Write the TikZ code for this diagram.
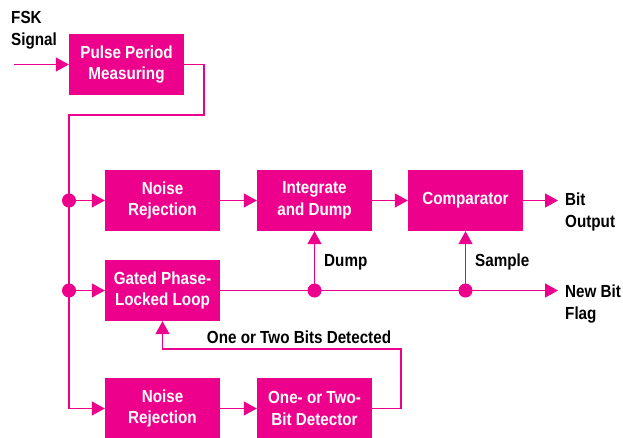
\documentclass[tikz,border=0pt]{standalone}
\usepackage{fontspec}
\setmainfont{Liberation Sans}[FakeStretch=0.87]
\usetikzlibrary{arrows.meta}
\definecolor{mag}{HTML}{EC008C}
\begin{document}
\begin{tikzpicture}[x=1pt,y=-1pt,
  box/.style={fill=mag, minimum width=115pt, minimum height=61pt, inner sep=0pt, text=white, font=\fontsize{17.5}{21.5}\selectfont\bfseries, align=center},
  lbl/.style={font=\fontsize{17.5}{22}\selectfont\bfseries, inner sep=0pt, align=left, text=black},
  wire/.style={draw=mag, line width=1.3pt},
  arr/.style={wire, -{Triangle[length=13pt,width=14pt]}},
  jdot/.style={circle, fill=mag, minimum size=14pt, inner sep=0pt}
]
\useasboundingbox (0,0) rectangle (623,437);
% boxes
\node[box] (pp)  at (126.5,64.5)  {Pulse Period\\Measuring};
\node[box] (nr1) at (162.5,200.5) {Noise\\Rejection};
\node[box] (id)  at (314.5,200.5) {Integrate\\and Dump};
\node[box] (cmp) at (465.5,200.5) {Comparator};
\node[box] (pll) at (162.5,290.5) {Gated Phase-\\Locked Loop};
\node[box] (nr2) at (162.5,408.5) {Noise\\Rejection};
\node[box] (det) at (314.5,408.5) {One- or Two-\\Bit Detector};
% coordinates
\coordinate (in) at (14,64.5);
\coordinate (c1) at (204,64.5);
\coordinate (c2) at (204,115);
\coordinate (c3) at (69,115);
\coordinate (c4) at (69,408.5);
\coordinate (bo) at (558,200.5);
\coordinate (nb) at (558,290.5);
\coordinate (f1) at (401,408.5);
\coordinate (f2) at (401,349);
\coordinate (f3) at (162.5,349);
% connectors
\draw[arr] (in) -- (pp.west);
\draw[arr] (pp.east) -- (c1) -- (c2) -- (c3) -- (c4) -- (nr2.west);
\draw[arr] (69,200.5) -- (nr1.west);
\draw[arr] (69,290.5) -- (pll.west);
\draw[arr] (nr1) -- (id);
\draw[arr] (id) -- (cmp);
\draw[arr] (cmp.east) -- (bo);
\draw[arr] (pll.east) -- (nb);
\draw[arr] (314.5,290.5) -- (id.south);
\draw[arr] (465.5,290.5) -- (cmp.south);
\draw[arr] (nr2) -- (det);
\draw[arr] (det.east) -- (f1) -- (f2) -- (f3) -- (pll.south);
% junction dots
\node[jdot] (d1) at (69,200.5) {};
\node[jdot] (d2) at (69,290.5) {};
\node[jdot] (d3) at (314.5,290.5) {};
\node[jdot] (d4) at (465.5,290.5) {};
% labels
\node[lbl, anchor=north west] (fsk) at (11,11) {FSK\\Signal};
\node[lbl, anchor=west] (bit) at (565,212) {Bit\\Output};
\node[lbl, anchor=west] (nbf) at (565,304) {New Bit\\Flag};
\node[lbl, anchor=west] (dmp) at (324,262) {Dump};
\node[lbl, anchor=west] (smp) at (475,262) {Sample};
\node[lbl] (obt) at (299,337) {One or Two Bits Detected};
\end{tikzpicture}
\end{document}
